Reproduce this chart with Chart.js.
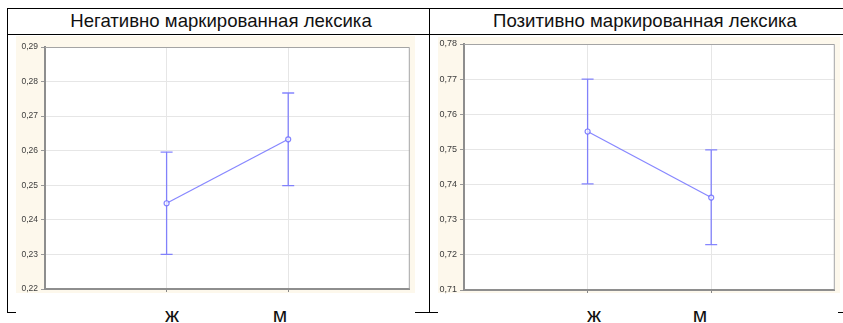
<!DOCTYPE html>
<html>
<head>
<meta charset="utf-8">
<script src="https://cdn.jsdelivr.net/npm/chart.js@4.4.1/dist/chart.umd.min.js"></script>
<style>
  html, body { margin: 0; padding: 0; background: #fff; }
  body { width: 843px; height: 323px; position: relative; overflow: hidden;
         font-family: "Liberation Sans", Arial, sans-serif; }
  .rule { position: absolute; background: #000; }
  .panel { position: absolute; background: #fff; }
  .plot { position: absolute; }
  .title { position: absolute; top: 8px; font-size: 18.6px; color: #111; white-space: nowrap;
           transform: translateX(-50%); line-height: 26px; }
  .cat { position: absolute; top: 304px; font-size: 21px; line-height: 21px; color: #111;
         transform: translateX(-50%); z-index: 5; }
</style>
</head>
<body>
<!-- table rules -->
<div class="rule" style="left:7px;top:8px;width:836px;height:1px"></div>
<div class="rule" style="left:7px;top:34px;width:836px;height:1px"></div>
<div class="rule" style="left:7px;top:312px;width:836px;height:1px"></div>
<div class="rule" style="left:7px;top:8px;width:1px;height:305px"></div>
<div class="rule" style="left:429px;top:8px;width:1px;height:305px"></div>

<!-- white cell backgrounds behind each plot -->
<div class="panel" style="left:16px;top:35px;width:399px;height:279px"></div>
<div class="panel" style="left:438px;top:35px;width:400px;height:279px"></div>

<div class="title" id="t1" style="left:221px"></div>
<div class="title" id="t2" style="left:645px"></div>

<!-- canvases carry a 10px white margin above and below the cream plate -->
<div class="plot" style="left:16px;top:26px;width:399px;height:277px"><canvas id="c1" width="399" height="277"></canvas></div>
<div class="plot" style="left:438px;top:27px;width:402px;height:276px"><canvas id="c2" width="402" height="276"></canvas></div>

<div id="cats"></div>

<script>
// Group labels
const categories = ['ж', 'м'];
const titles = ['Негативно маркированная лексика', 'Позитивно маркированная лексика'];

// Negatively marked vocabulary: means and interval bounds
const negMean = [0.2448, 0.2633];
const negLow  = [0.2300, 0.2499];
const negHigh = [0.2596, 0.2767];

// Positively marked vocabulary: means and interval bounds
const posMean = [0.7551, 0.7363];
const posLow  = [0.7402, 0.7229];
const posHigh = [0.7700, 0.7499];

// y-axis ranges
const negRange = [0.22, 0.29];
const posRange = [0.71, 0.78];

document.getElementById('t1').textContent = titles[0];
document.getElementById('t2').textContent = titles[1];

// category captions under each plot
const catPos = [[172, 280], [594, 700]];
const catsDiv = document.getElementById('cats');
catPos.forEach(xs => xs.forEach((x, i) => {
  const d = document.createElement('div');
  d.className = 'cat';
  d.style.left = x + 'px';
  d.textContent = categories[i];
  catsDiv.appendChild(d);
}));

const LINE = 'rgba(100,100,255,0.78)';
const MARGIN = 10;

// cream plate outside the plot area, white inside, frame and interval bars
const frame = {
  id: 'frame',
  beforeDraw(chart) {
    const { ctx, chartArea: a, width, height } = chart;
    ctx.save();
    ctx.fillStyle = '#fdf8ec';
    ctx.fillRect(0, MARGIN, width, height - 2 * MARGIN);
    ctx.fillStyle = '#ffffff';
    ctx.fillRect(a.left, a.top, a.right - a.left, a.bottom - a.top);
    ctx.restore();
  },
  afterDraw(chart) {
    const { ctx, chartArea: a } = chart;
    ctx.save();
    ctx.strokeStyle = '#a4a4a4';
    ctx.lineWidth = 1;
    ctx.beginPath();
    ctx.moveTo(a.left, a.top + 0.5);
    ctx.lineTo(a.right - 0.5, a.top + 0.5);
    ctx.lineTo(a.right - 0.5, a.bottom);
    ctx.stroke();
    ctx.restore();
  },
  beforeDatasetsDraw(chart, args, opts) {
    const { ctx, scales } = chart;
    const lo = opts.low, hi = opts.high;
    ctx.save();
    ctx.strokeStyle = LINE;
    ctx.lineWidth = 1.3;
    lo.forEach((l, i) => {
      const x = scales.x.getPixelForValue(i + 1);
      const y1 = scales.y.getPixelForValue(l);
      const y2 = scales.y.getPixelForValue(hi[i]);
      ctx.beginPath();
      ctx.moveTo(x, y1); ctx.lineTo(x, y2);
      ctx.moveTo(x - 6, y1); ctx.lineTo(x + 6, y1);
      ctx.moveTo(x - 6, y2); ctx.lineTo(x + 6, y2);
      ctx.stroke();
    });
    ctx.restore();
  }
};

function makeChart(id, means, low, high, range, geo) {
  new Chart(document.getElementById(id), {
    type: 'line',
    data: {
      datasets: [{
        data: means.map((v, i) => ({ x: i + 1, y: v })),
        borderColor: LINE,
        borderWidth: 1.2,
        pointRadius: 2.5,
        pointBorderWidth: 1.2,
        pointBorderColor: LINE,
        pointBackgroundColor: 'rgba(255,255,255,0.7)',
        tension: 0
      }]
    },
    options: {
      responsive: false,
      animation: false,
      events: [],
      layout: { padding: { top: geo.top + MARGIN, right: geo.right, left: 0, bottom: 0 } },
      plugins: {
        legend: { display: false },
        tooltip: { enabled: false },
        frame: { low, high }
      },
      scales: {
        x: {
          type: 'linear',
          min: 0, max: categories.length + 1,
          afterBuildTicks: s => { s.ticks = categories.map((c, i) => ({ value: i + 1 })); },
          afterFit: s => { s.height = geo.bottom + MARGIN; },
          ticks: { display: false },
          grid: { color: '#e6e6e6', tickLength: 3, tickColor: '#888', lineWidth: 1 },
          border: { color: '#8e8e8e', width: 2 }
        },
        y: {
          min: range[0], max: range[1],
          afterFit: s => { s.width = geo.left; },
          ticks: {
            stepSize: 0.01,
            padding: 3,
            color: '#3c3c3c',
            font: { family: 'Liberation Sans, Arial, sans-serif', size: geo.font },
            callback: v => v.toFixed(2).replace('.', ',')
          },
          grid: { color: '#e6e6e6', tickLength: 4, tickColor: '#999', lineWidth: 1 },
          border: { color: '#8e8e8e', width: 2 }
        }
      }
    },
    plugins: [frame]
  });
}

makeChart('c1', negMean, negLow, negHigh, negRange, { left: 29, top: 11, right: 3, bottom: 4, font: 8.5 });
makeChart('c2', posMean, posLow, posHigh, posRange, { left: 26, top: 7, right: 3, bottom: 3, font: 9 });
</script>
</body>
</html>
